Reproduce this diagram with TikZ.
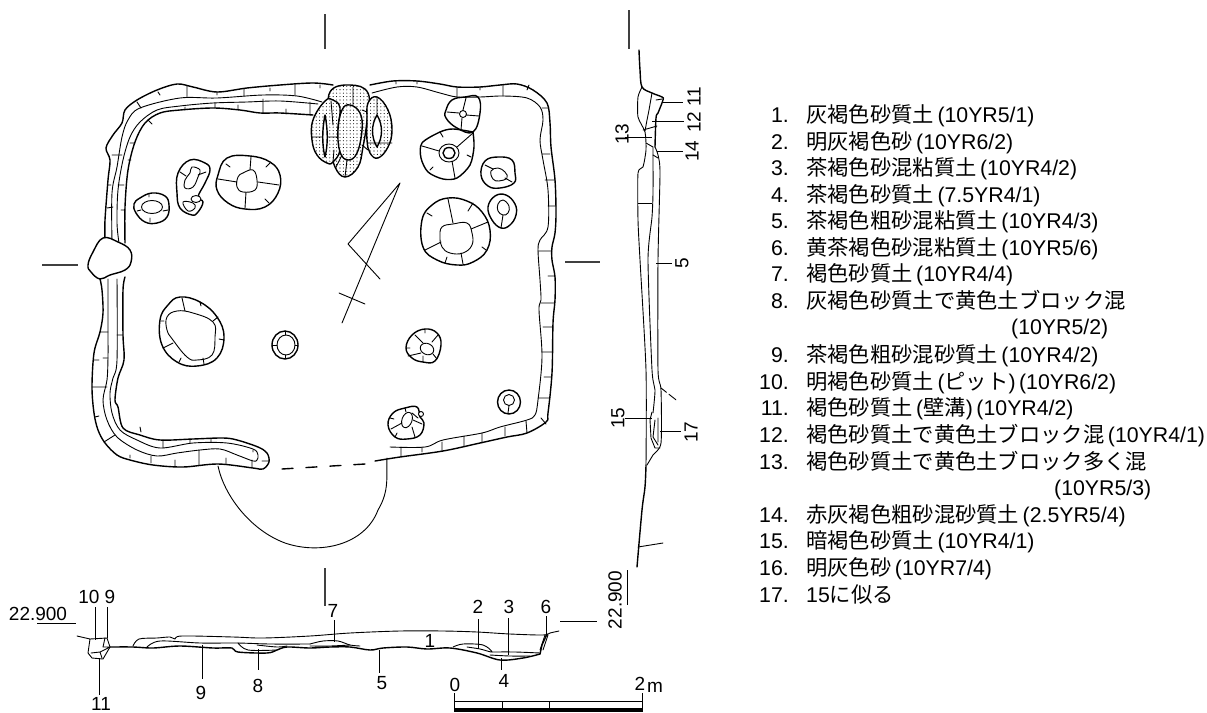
\documentclass[tikz,border=0pt]{standalone}
\usepackage{fontspec}
\setmainfont{Liberation Sans}
\newfontfamily\cjk{Noto Sans CJK JP}
\usetikzlibrary{patterns.meta}
\newcommand{\J}[1]{{\cjk #1}}
\newcommand{\Par}[1]{\kern3.5pt(#1)}
\newcommand{\thickcurve}[1]{\draw[heavy] plot[smooth,tension=0.55] coordinates {#1};}
\newcommand{\thincurve}[1]{\draw[light] plot[smooth,tension=0.55] coordinates {#1};}
\newcommand{\pit}[1]{\draw[heavy] plot[smooth cycle,tension=0.7] coordinates {#1};}
\newcommand{\pitin}[1]{\draw[light] plot[smooth cycle,tension=0.7] coordinates {#1};}
\newcommand{\legendrow}[4]{\node[num] (n#1) at (789,#2) {#3}; \node[txt] (t#1) at (806,#2) {#4};}
\tikzset{
 x=1pt,y=-1pt,
 heavy/.style={line width=1.4pt,line join=round,line cap=round},
 light/.style={line width=0.9pt,line join=round,line cap=round},
 hair/.style={line width=0.8pt},
 stip/.style={heavy,preaction={fill=white},pattern={Dots[radius=0.55pt,distance=3.4pt]}},
 lab/.style={inner sep=0pt,font=\fontsize{19}{19}\selectfont},
 rlab/.style={lab,rotate=90},
 num/.style={inner sep=0pt,anchor=base east,font=\fontsize{21.3}{25}\selectfont},
 txt/.style={inner sep=0pt,anchor=base west,font=\fontsize{21.3}{25}\selectfont},
}
\begin{document}
\begin{tikzpicture}
\useasboundingbox (0,0) rectangle (1207,712);
% ---- section marks
\draw[line width=1.1pt,black!75] (325,14)--(325,49) (325,568)--(325,606) (42,265)--(78,265) (565,262)--(600,262) (629,10)--(629,49);
% ---- wall of the plan
\thickcurve{(105,238)(105,220)(108,180)(110,160)(106,148)(113,135)(122,123)(125,110)(137,100)(157,90)(177,84)(193,87)(217,92)(247,88)(280,85)(313,83)(333,85)}
\thickcurve{(370,85)(393,81)(417,81)(440,84)(457,87)(480,87)(500,85)(517,84)(533,90)(547,103)(550,123)(551,147)(555,180)(556,213)(555,233)(552,247)(552,260)(555,277)(555,300)(553,323)(552,373)(548,413)(546,422)(527,433)(507,437)(480,443)(443,451)(400,457)(375,461)}
\thincurve{(372,93)(397,87)(417,87)(440,93)(457,97)(480,97)(503,96)(527,98)(540,107)(543,120)(540,140)(543,160)(548,190)(548,227)(540,240)(538,250)(540,280)(541,300)(539,310)(542,357)(538,400)(535,415)(527,420)(500,427)(482,433)(443,440)(425,447)(390,447)}
\thincurve{(322,102)(297,96)(263,95)(217,98)(180,98)(140,108)(128,120)(122,137)(117,167)(112,193)(112,243)}
\thincurve{(318,104)(280,101)(247,102)(213,103)(180,106)(157,110)(140,122)(130,137)(123,160)(118,190)(117,223)(119,243)}
\thickcurve{(313,115)(280,113)(260,113)(240,110)(213,108)(180,110)(160,113)(145,123)(135,142)(128,170)(125,207)(125,243)}
\thickcurve{(100,279)(102,290)(103,313)(100,332)(94,353)(92,387)(94,413)(98,430)(105,443)(117,455)(130,460)(153,465)(183,467)(218,464)(253,468)(263,469)(269,462)(267,453)(258,447)(237,440)(223,438)(193,439)(160,440)(140,435)(123,428)(118,407)(115,400)(118,378)(124,360)(123,335)(123,290)(125,277)}
\thincurve{(108,279)(108,333)(108,357)(107,380)(103,400)(107,420)(117,437)(137,450)(157,456)(177,453)(200,450)(220,449)(237,455)(253,461)(257,460)(258,455)(253,449)(227,443)(193,443)(160,448)(137,440)(120,430)(112,413)(110,393)(113,378)(117,360)(117,279)}
% wall cross lines
\draw[light] (187,86)--(187,97) (244,89)--(244,96) (295,85)--(295,95) (137,102)--(141,108) (112,155)--(122,155) (215,103)--(215,108) (263,99)--(263,113) (310,102)--(310,115) (130,143)--(135,143)
 (457,87)--(457,97) (503,85)--(503,96) (542,108)--(548,108) (542,154)--(550,154) (538,251)--(552,251) (541,303)--(554,303) (542,352)--(552,352) (538,398)--(550,398) (526,421)--(527,433) (482,433)--(482,443) (442,442)--(442,451) (401,447)--(401,456)
 (100,332)--(108,332) (92,387)--(107,387) (104,442)--(115,435) (151,456)--(151,463) (199,450)--(199,465) (163,440)--(163,448) (117,335)--(123,335) (107,208)--(113,207);
\draw[light] (158,92)--(160,95) (217,92)--(217,95) (270,88)--(270,91) (320,85)--(320,88) (185,107)--(185,110) (238,105)--(238,110) (286,109)--(286,114) (148,120)--(152,124) (128,160)--(131,160) (118,185)--(124,185) (108,185)--(111,185) (121,210)--(125,210)
 (396,81)--(396,84) (417,81)--(417,84) (480,87)--(480,90) (527,90)--(529,85) (545,180)--(555,180) (548,206)--(556,206) (548,276)--(555,276) (543,327)--(553,327) (544,377)--(552,377) (541,418)--(546,424) (505,427)--(505,436) (464,436)--(464,446) (422,447)--(422,452)
 (94,360)--(99,360) (103,358)--(108,358) (95,417)--(99,416) (130,455)--(130,458) (175,460)--(175,466) (226,458)--(226,464) (252,460)--(252,467) (262,461)--(269,461) (140,427)--(141,432) (190,439)--(190,443) (211,438)--(211,442) (253,450)--(253,452);
% opening and pit below
\draw[heavy,dash pattern=on 11pt off 13pt] (282,469)--(365,464);
\draw[light] (218,466) .. controls (224,495) and (250,530) .. (285,543) .. controls (320,555) and (365,545) .. (378,510) .. controls (390,490) and (386,475) .. (387,458);
% ---- stippled pits
\draw[stip] plot[smooth cycle,tension=0.7] coordinates {(330,92)(350,85)(368,93)(367,120)(363,147)(358,167)(345,177)(335,167)(332,150)(330,120)};
\draw[stip] plot[smooth cycle,tension=0.7] coordinates {(377,97)(388,110)(392,130)(388,147)(378,158)(370,153)(367,140)(367,120)(368,103)};
\draw[stip] plot[smooth cycle,tension=0.7] coordinates {(325,101)(333,100)(340,108)(338,130)(340,150)(333,162)(327,163)(317,155)(312,140)(313,120)};
\draw[stip] plot[smooth cycle,tension=0.7] coordinates {(350,105)(360,113)(362,130)(357,153)(348,160)(340,152)(338,130)(342,110)};
\draw[heavy,fill=white] (325,115) .. controls (328,130) and (328,145) .. (325,157) .. controls (322,145) and (322,130) .. (325,115) -- cycle;
\draw[heavy,fill=white] (377,115) .. controls (383,125) and (383,137) .. (377,147) .. controls (371,137) and (371,125) .. (377,115) -- cycle;
\draw[light] (353,87)--(353,105) (347,160)--(345,177) (312,137)--(322,137) (328,137)--(338,137) (368,143)--(392,143) (331,101)--(333,125) (377,97)--(377,115) (333,162)--(334,150) (362,110)--(367,112) (362,145)--(368,150) (336,167)--(342,155);
% ---- pits, upper right
\pit{(452,100)(465,97)(478,97)(480,113)(473,132)(457,128)(446,118)(446,110)}
\draw[light] (463,114) circle[radius=3.5];
\draw[light] (447,112)--(459,113) (466,115)--(479,116) (466,98)--(463,110) (462,118)--(461,130);
\draw[heavy] plot[smooth,tension=0.5] coordinates {(473,132)(453,129)(440,132)(422,143)(421,158)(428,172)(443,179)(457,178)(470,165)(474,147)(473,132)};
\draw[light] (449,153) ellipse[x radius=10,y radius=9];
\draw[heavy] (449,153) ellipse[x radius=6,y radius=5.5];
\draw[light] (422,146)--(439,151) (473,133)--(457,147) (452,161)--(455,178) (440,132)--(443,137) (430,170)--(433,167) (467,155)--(471,157);
\pit{(485,161)(498,157)(512,160)(515,173)(514,183)(500,188)(488,186)(481,175)}
\pitin{(491,171)(498,168)(505,172)(507,178)(499,181)(493,179)}
\draw[light] (485,165)--(493,169) (505,178)--(512,182);
\pit{(495,196)(506,195)(515,204)(516,215)(510,225)(501,228)(492,220)(488,207)}
\pitin{(503,200)(509,206)(508,213)(503,215)(498,211)(498,204)}
\draw[light] (503,215)--(501,228);
\pit{(448,198)(467,201)(482,212)(490,230)(487,250)(473,262)(457,265)(437,260)(423,247)(422,220)(432,205)}
\pitin{(442,227)(453,224)(467,223)(472,233)(472,245)(463,253)(450,253)(442,247)(440,237)}
\draw[light] (448,199)--(453,223) (488,222)--(471,229) (461,253)--(463,264) (441,242)--(425,250) (427,213)--(432,216) (473,203)--(468,211) (482,247)--(486,250) (447,257)--(445,263);
% ---- pits, upper left
\pit{(140,198)(152,193)(165,196)(169,205)(167,217)(157,223)(145,222)(136,213)(134,204)}
\draw[light] (152,207) ellipse[x radius=10.5,y radius=6.5];
\draw[light] (149,194)--(149,197) (137,211)--(141,210) (163,211)--(168,210) (150,218)--(150,222);
\pit{(190,160)(205,163)(210,170)(205,183)(198,197)(203,202)(198,212)(192,215)(180,208)(177,193)(178,173)}
\pitin{(192,167)(200,170)(198,177)(193,187)(185,188)(185,180)(190,173)}
\pitin{(183,202)(193,203)(195,208)(188,211)}
\draw[light,fill=white] (196,199) ellipse[x radius=5,y radius=3.5];
\draw[light] (198,175)--(206,172) (180,172)--(186,176);
\pit{(227,158)(250,156)(270,162)(280,175)(278,193)(265,207)(245,209)(228,203)(217,190)(218,175)}
\pitin{(243,173)(253,170)(257,180)(255,190)(243,192)(237,187)(238,177)}
\draw[light] (251,157)--(250,170) (258,182)--(279,185) (246,192)--(245,208) (237,182)--(218,179) (226,164)--(230,167) (270,163)--(266,167) (265,199)--(269,203);
% ---- stone
\draw[heavy,fill=white] plot[smooth cycle,tension=0.7] coordinates {(103,238)(118,242)(130,250)(131,262)(125,270)(110,275)(100,279)(91,272)(88,265)(93,252)};
% ---- pits, lower
\pit{(180,297)(200,302)(217,317)(224,337)(217,358)(197,366)(177,362)(162,345)(160,320)(168,305)}
\pitin{(177,311)(193,313)(213,322)(215,337)(212,355)(197,360)(187,357)(173,340)(167,330)(167,317)}
\draw[light] (182,298)--(185,311) (213,321)--(218,317) (173,343)--(163,348) (203,358)--(204,364) (181,358)--(179,362) (200,302)--(201,306) (219,339)--(224,340) (161,321)--(164,321);
\draw[heavy] (285,345) ellipse[x radius=13,y radius=14];
\draw[light] (286,345) ellipse[x radius=9,y radius=10];
\draw[light] (272,345)--(277,345) (295,345)--(298,345) (285,331)--(285,335) (285,355)--(285,358);
\pit{(425,329)(437,333)(441,345)(435,361)(423,362)(412,358)(406,348)(412,335)}
\draw[light,rotate around={-25:(427,349)}] (427,349) ellipse[x radius=7,y radius=5.5];
\draw[light] (415,335)--(423,343) (438,335)--(432,342) (421,353)--(408,356) (433,354)--(437,359) (425,329)--(425,333) (407,348)--(410,348) (423,356)--(423,362);
\draw[heavy] (509,402) ellipse[x radius=11.5,y radius=12];
\draw[light] (509,400) circle[radius=5.5];
\draw[light] (509,405.5)--(508,413);
\pit{(405,408)(417,407)(420,417)(424,423)(420,435)(407,439)(395,437)(388,425)(393,413)}
\draw[light,rotate around={-20:(407,420)}] (407,420) ellipse[x radius=5,y radius=8];
\draw[light,fill=white] (421,414) circle[radius=2.5];
\draw[light] (402,423)--(391,429) (412,427)--(415,437) (412,413)--(418,418) (413,420)--(422,424) (405,408)--(406,412) (395,437)--(397,433) (390,418)--(394,419);
% ---- north arrow
\draw[light] (380,279)--(348,244)--(400,183)--(342,323) (339,293)--(365,304);
% ---- right section
\thickcurve{(639,50)(640,70)(642,87)(652,93)(662,97)(663,100)(658,113)(656,118)(655,147)}
\draw[light] plot[smooth,tension=0.4] coordinates {(655,147)(658,155)(660,173)(658,260)(658,370)(661,390)(661,443)(653,455)(647,465)};
\draw[light] plot[smooth,tension=0.4] coordinates {(642,87)(638,97)(638,117)(645,132)(646,150)(643,167)(638,173)(638,220)(640,260)(646,370)(646,465)};
\thickcurve{(646,465)(645,487)(642,510)(637,567)}
\draw[light] (638,547)--(663,543);
\draw[light] (652,93)--(649,110)--(647,120)--(645,131) (643,130)--(657,126) (662,99)--(656,100) (646,143)--(653,147)--(653,155)--(658,158);
\draw[light] plot[smooth,tension=0.4] coordinates {(653,155)(653,193)(652,217)(648,260)(652,370)(655,390)(653,413)};
\draw[light] (652,412)--(650,420)--(651,438)--(655,448)--(660,448) (655,420)--(653,437)--(658,445) (658,418)--(658,442);
\draw[light,dash pattern=on 7pt off 3pt on 9pt] (661,388)--(680,403);
\draw[hair] (662,102)--(683,102) (652,121)--(684,121) (657,151)--(683,151) (625,137)--(652,137) (638,203)--(652,203) (656,263)--(672,263) (625,418)--(652,418) (660,431)--(681,431) (627,570)--(627,605);
\node[rlab] (r11) at (694,97) {11};
\node[rlab] (r12) at (694,122) {12};
\node[rlab] (r14) at (692,151) {14};
\node[rlab] (r13) at (622,134) {13};
\node[rlab] (r5) at (682,263) {5};
\node[rlab] (r15) at (618,418) {15};
\node[rlab] (r17) at (691,432) {17};
\node[rlab] (r229) at (615,600) {22.900};
% ---- bottom section
\draw[light] (77,636)--(90,639)--(107,638)--(110,647)--(103,659)--(92,658)--(88,653)--(90,639);
\draw[light] (91,653)--(100,652)--(102,658) (100,652)--(110,647) (105,638)--(103,647)--(110,647);
\thincurve{(133,646)(139,639)(157,638)(170,637)(175,639)(182,636)(233,637)(263,638)(310,636)(350,633)(400,631)(443,631)(477,632)(510,634)(543,635)(550,633)(559,631)}
\thickcurve{(110,647)(133,647)(153,648)(180,646)(213,648)(232,648)(238,652)(267,653)(277,650)(287,647)(310,648)(330,647)(350,647)(370,650)(383,648)(407,647)(427,649)(450,648)(477,653)(500,660)(523,658)(540,654)}
\draw[heavy] (540,654)--(542,645)--(547,634);
\thincurve{(147,647)(160,641)(200,643)(237,643)(270,644)(310,644)}
\thincurve{(310,644)(323,641)(338,641)(350,645)(360,646)}
\thincurve{(310,646)(330,646)(350,645)}
\thincurve{(238,643)(248,650)(277,650)}
\thincurve{(257,645)(277,647)(287,646)}
\thincurve{(453,647)(463,644)(483,645)(492,652)(480,649)(467,647)}
\thincurve{(492,652)(515,652)(540,653)}
\thincurve{(490,655)(510,656)(530,656)}
\draw[light] (540,650)--(545,635)--(548,635)--(543,650);
\draw[hair] (37,623)--(76,623) (95,607)--(95,640) (107,607)--(107,638) (99,658)--(99,695) (202,645)--(202,679) (258,649)--(258,670) (334,620)--(334,642) (478,619)--(478,649) (508,618)--(508,655) (546,616)--(546,635) (379,650)--(379,673) (501,658)--(501,670) (560,621)--(597,621);
\node[lab] (s229) at (38,614) {22.900};
\node[lab] (s10) at (89,597) {10};
\node[lab] (s9) at (110,597) {9};
\node[lab] (s11) at (101,704) {11};
\node[lab] (b9) at (201,693) {9};
\node[lab] (b8) at (258,686) {8};
\node[lab] (b7) at (333,611) {7};
\node[lab] (b2) at (478,607) {2};
\node[lab] (b3) at (509,607) {3};
\node[lab] (b6) at (546,607) {6};
\node[lab] (b1) at (430,641) {1};
\node[lab] (b5) at (382,683) {5};
\node[lab] (b4) at (504,681) {4};
% ---- scale
\draw[line width=1pt] (454,693)--(454,710) (454,701)--(642,701) (642,693)--(642,710) (502,701)--(502,709) (549,701)--(549,709);
\fill (454,708) rectangle (643,712);
\node[lab] (s0) at (455,685) {0};
\node[lab] (s2) at (640,684) {2};
\node[lab] (sm) at (655,687) {m};
% ---- legend
\legendrow{1}{122.5}{1.}{\J{灰褐色砂質土}\Par{10YR5/1}}
\legendrow{2}{149.5}{2.}{\J{明灰褐色砂}\Par{10YR6/2}}
\legendrow{3}{175.5}{3.}{\J{茶褐色砂混粘質土}\Par{10YR4/2}}
\legendrow{4}{202.5}{4.}{\J{茶褐色砂質土}\Par{7.5YR4/1}}
\legendrow{5}{228.5}{5.}{\J{茶褐色粗砂混粘質土}\Par{10YR4/3}}
\legendrow{6}{255.5}{6.}{\J{黄茶褐色砂混粘質土}\Par{10YR5/6}}
\legendrow{7}{281.5}{7.}{\J{褐色砂質土}\Par{10YR4/4}}
\legendrow{8}{308.5}{8.}{\J{灰褐色砂質土で黄色土ブロック混}}
\node[txt] (t8b) at (1011,334.5) {(10YR5/2)};
\legendrow{9}{362.5}{9.}{\J{茶褐色粗砂混砂質土}\Par{10YR4/2}}
\legendrow{10}{389.5}{10.}{\J{明褐色砂質土}\Par{\J{ピット}}\Par{10YR6/2}}
\legendrow{11}{415.5}{11.}{\J{褐色砂質土}\Par{\J{壁溝}}\Par{10YR4/2}}
\legendrow{12}{442.5}{12.}{\J{褐色砂質土で黄色土ブロック混}\Par{10YR4/1}}
\legendrow{13}{469.5}{13.}{\J{褐色砂質土で黄色土ブロック多く混}}
\node[txt] (t13b) at (1054,495.5) {(10YR5/3)};
\legendrow{14}{522.5}{14.}{\J{赤灰褐色粗砂混砂質土}\Par{2.5YR5/4}}
\legendrow{15}{548.5}{15.}{\J{暗褐色砂質土}\Par{10YR4/1}}
\legendrow{16}{575.5}{16.}{\J{明灰色砂}\Par{10YR7/4}}
\legendrow{17}{602.5}{17.}{15\J{に似る}}
\end{tikzpicture}
\end{document}
